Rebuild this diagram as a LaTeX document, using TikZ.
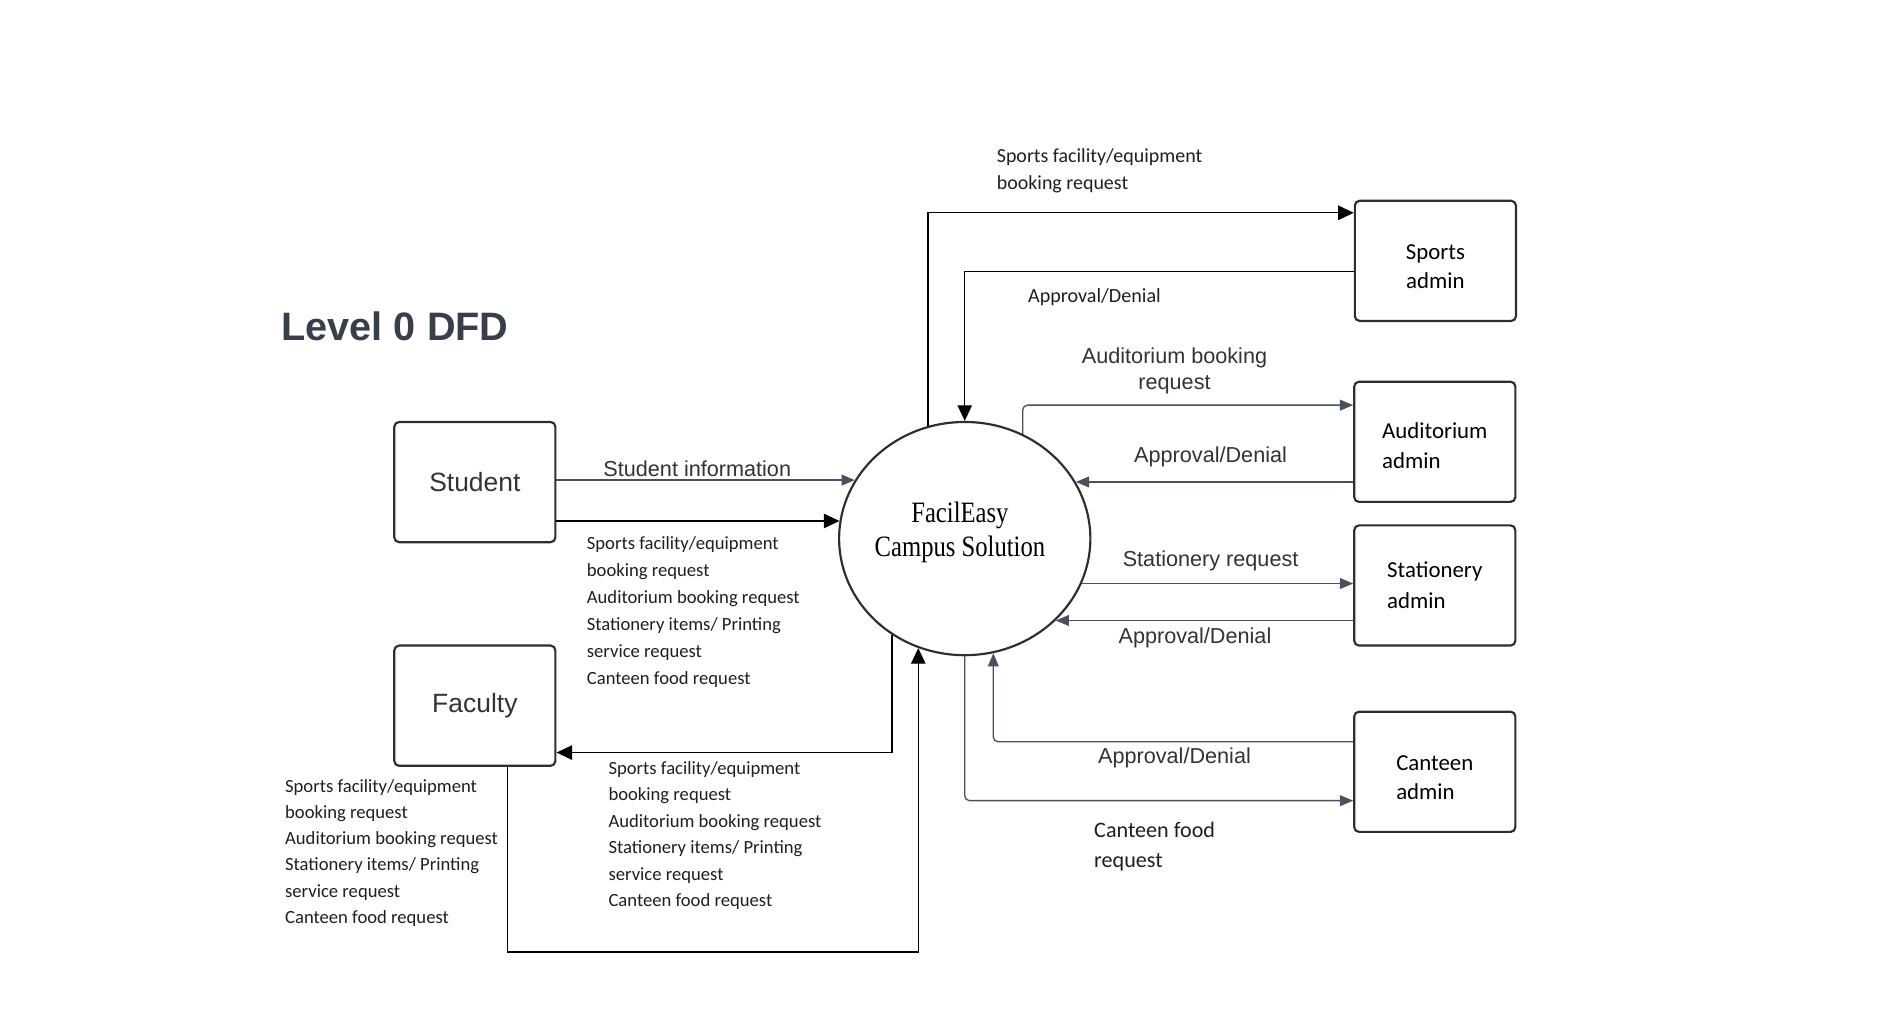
\documentclass[tikz,border=0pt]{standalone}
\usepackage{fontspec}
\setmainfont{Liberation Sans}
\newfontfamily\narrowfont{Carlito}
\newfontfamily\serifont{Liberation Serif}
\usetikzlibrary{arrows.meta,shapes.geometric}
\definecolor{edge}{HTML}{2E2E2E}
\definecolor{flow}{HTML}{4A505C}
\definecolor{ink}{HTML}{333333}
\definecolor{head}{HTML}{383E4A}
\begin{document}
\begin{tikzpicture}[x=1pt,y=-1pt,
    entity/.style={draw=edge,line width=1.8pt,rounded corners=4pt,minimum width=134pt,minimum height=100pt,inner sep=0pt},
    blk/.style={-{Triangle[length=13pt,width=12pt]},black,line width=1.1pt},
    gry/.style={-{Triangle[length=11pt,width=9pt]},flow,line width=1.1pt},
    lbl/.style={font=\fontsize{18}{22}\selectfont,text=ink,inner sep=0pt,anchor=base},
    nlbl/.style={font=\narrowfont\fontsize{#1}{20}\selectfont,text=black!88,inner sep=0pt,anchor=base west},
    nlbl/.default=15.5]
    \useasboundingbox (0,0) rectangle (1568,860);
    \node[anchor=base west,font=\bfseries\fontsize{33}{40}\selectfont,text=head,inner sep=0pt] (title) at (234,283) {Level 0 DFD};
    % external entities
    \node[entity,font=\fontsize{22}{26}\selectfont,text=ink] (student) at (395,401) {Student};
    \node[entity,font=\fontsize{22}{26}\selectfont,text=ink] (faculty) at (395,587) {Faculty};
    \node[entity,font=\narrowfont\fontsize{19}{24}\selectfont,align=center] (sports) at (1194,217) {\rule{0pt}{22pt}Sports\\admin};
    \node[entity,font=\narrowfont\fontsize{19}{25}\selectfont,align=left] (aud) at (1193.5,367.5) {\rule{0pt}{19pt}Auditorium\\admin};
    \node[entity,font=\narrowfont\fontsize{19}{26}\selectfont,align=left] (stat) at (1193.5,487) {Stationery\\admin};
    \node[entity,font=\narrowfont\fontsize{19}{24}\selectfont,align=left] (canteen) at (1193.5,642) {\rule{0pt}{22pt}Canteen\\admin};
    % process
    \node[ellipse,draw=edge,line width=1.8pt,minimum width=209pt,minimum height=194pt,inner sep=0pt,
        label={[name=fetext,xshift=-4pt,yshift=5pt,inner sep=0pt]center:{\serifont\fontsize{20.5}{24}\selectfont\scalebox{1}[1.2]{\begin{tabular}{@{}c@{}}FacilEasy\\Campus Solution\end{tabular}}}}] (fe) at (802.5,448) {};
    % student and faculty flows
    \draw[gry] (fe.152.8 -| student.east) -- (fe.152.8);
    \draw[blk] (fe.172.85 -| student.east) -- (fe.172.85);
    \draw[blk] (fe.233.3) |- ([yshift=-39pt]faculty.east);
    \draw[blk] ([xshift=27pt]faculty.south) -- ++(0,154) -| (fe.247.5);
    % admin flows
    \draw[blk] (fe.108.2) |- ([yshift=40pt]sports.west);
    \draw[blk] ([yshift=-9pt]sports.west) -| (fe.north);
    \draw[gry,rounded corners=4pt] (fe.61.2) |- ([yshift=30.5pt]aud.west);
    \draw[gry] (aud.west |- fe.27.2) -- (fe.27.2);
    \draw[gry] (fe.339.6) -- (fe.339.6 -| stat.west);
    \draw[gry] (stat.west |- fe.318.45) -- (fe.318.45);
    \draw[gry,rounded corners=4pt] ([yshift=25pt]canteen.west) -| (fe.284);
    \draw[gry,rounded corners=4pt] (fe.south) |- ([yshift=-24pt]canteen.west);
    % labels
    \node[lbl] (info) at (580,396) {Student information};
    \foreach \t [count=\i] in {Sports facility/equipment,booking request,Auditorium booking request,Stationery items/ Printing,service request,Canteen food request} {
        \node[nlbl] (sa\i) at (488,{457+(\i-1)*22.4}) {\t};
        \node[nlbl] (fb\i) at (506,{644+(\i-1)*22}) {\t};
        \node[nlbl] (fa\i) at (237,{659+(\i-1)*21.8}) {\t};
    }
    \node[nlbl=16.6] (sp1) at (829,135.5) {Sports facility/equipment};
    \node[nlbl=16.6] (sp2) at (829,157.5) {booking request};
    \node[nlbl=16.75] (spd) at (855,251.5) {Approval/Denial};
    \node[lbl] (au1) at (977,302) {Auditorium booking};
    \node[lbl] (au2) at (977,324) {request};
    \node[lbl] (aud1) at (1007,385) {Approval/Denial};
    \node[lbl] (st1) at (1007,471) {Stationery request};
    \node[lbl] (std1) at (994,535) {Approval/Denial};
    \node[lbl] (cd1) at (977,635) {Approval/Denial};
    \node[nlbl=18.4] (cf1) at (910,697) {Canteen food};
    \node[nlbl=18.4] (cf2) at (910,722) {request};
\end{tikzpicture}
\end{document}
